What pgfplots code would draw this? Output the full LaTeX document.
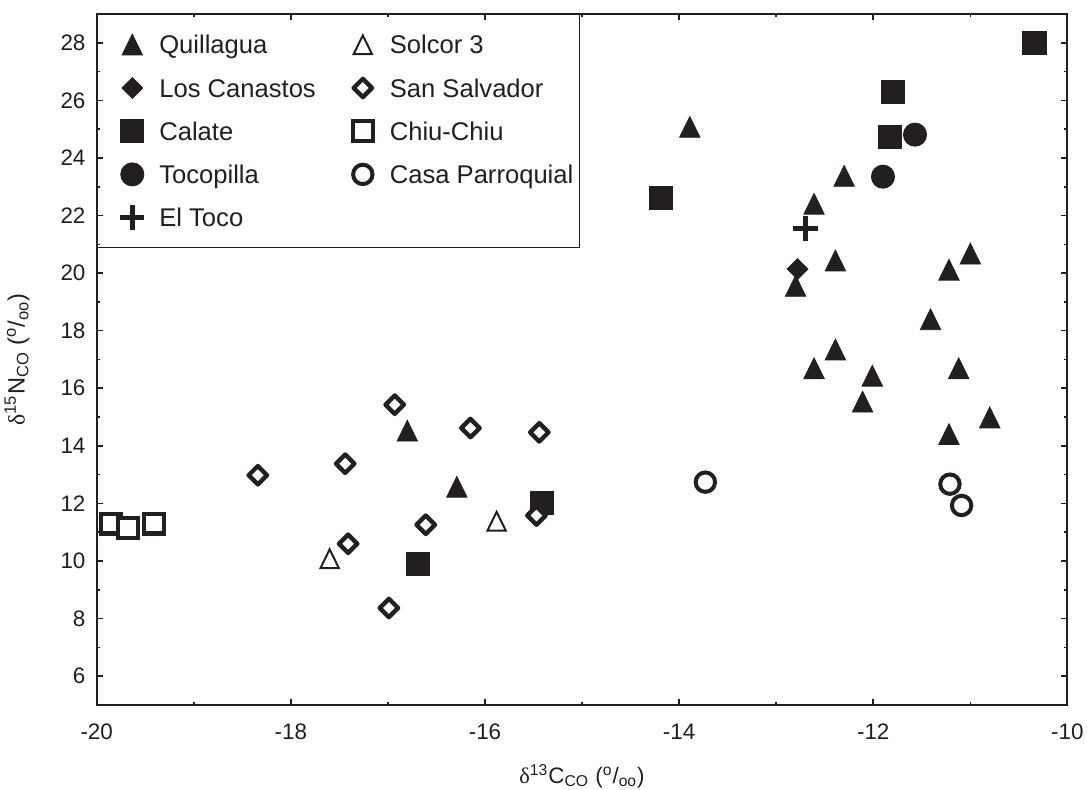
\documentclass[border=0pt]{standalone}
\usepackage{fontspec}
\setmainfont{Liberation Sans}
\newfontfamily\grk{Liberation Serif}
\usepackage{pgfplots}
\pgfplotsset{compat=1.18}
\definecolor{mk}{RGB}{35,31,32}

% filled triangle
\pgfdeclareplotmark{Qtri}{\pgfscope\pgfsetlinewidth{0.4pt}\pgfsetmiterjoin
 \pgfpathmoveto{\pgfqpoint{0pt}{5.3pt}}\pgfpathlineto{\pgfqpoint{5.1pt}{-5.1pt}}\pgfpathlineto{\pgfqpoint{-5.1pt}{-5.1pt}}\pgfpathclose\pgfusepathqfillstroke\endpgfscope}
% open triangle
\pgfdeclareplotmark{Otri}{\pgfscope\pgfsetlinewidth{1pt}\pgfsetmiterjoin\pgfsetfillcolor{white}
 \pgfpathmoveto{\pgfqpoint{0pt}{4.7pt}}\pgfpathlineto{\pgfqpoint{4.6pt}{-4.7pt}}\pgfpathlineto{\pgfqpoint{-4.6pt}{-4.7pt}}\pgfpathclose\pgfusepathqfillstroke\endpgfscope}
% filled square
\pgfdeclareplotmark{Fsq}{\pgfscope\pgfsetlinewidth{0.4pt}
 \pgfpathrectangle{\pgfqpoint{-5.8pt}{-5.8pt}}{\pgfqpoint{11.6pt}{11.6pt}}\pgfusepathqfillstroke\endpgfscope}
% open square
\pgfdeclareplotmark{Osq}{\pgfscope\pgfsetlinewidth{2.1pt}\pgfsetmiterjoin\pgfsetfillcolor{white}
 \pgfpathrectangle{\pgfqpoint{-4.95pt}{-4.95pt}}{\pgfqpoint{9.9pt}{9.9pt}}\pgfusepathqfillstroke\endpgfscope}
% filled circle
\pgfdeclareplotmark{Fci}{\pgfscope\pgfsetlinewidth{0.4pt}
 \pgfpathcircle{\pgfpointorigin}{5.8pt}\pgfusepathqfillstroke\endpgfscope}
% open circle
\pgfdeclareplotmark{Oci}{\pgfscope\pgfsetlinewidth{2pt}\pgfsetfillcolor{white}
 \pgfpathcircle{\pgfpointorigin}{4.85pt}\pgfusepathqfillstroke\endpgfscope}
% filled diamond
\pgfdeclareplotmark{Fdi}{\pgfscope\pgfsetlinewidth{0.4pt}\pgfsetmiterjoin
 \pgfpathmoveto{\pgfqpoint{0pt}{5.2pt}}\pgfpathlineto{\pgfqpoint{5.2pt}{0pt}}\pgfpathlineto{\pgfqpoint{0pt}{-5.2pt}}\pgfpathlineto{\pgfqpoint{-5.2pt}{0pt}}\pgfpathclose\pgfusepathqfillstroke\endpgfscope}
% open diamond
\pgfdeclareplotmark{Odi}{\pgfscope\pgfsetlinewidth{2.2pt}\pgfsetroundjoin\pgfsetfillcolor{white}
 \pgfpathmoveto{\pgfqpoint{0pt}{4.6pt}}\pgfpathlineto{\pgfqpoint{4.6pt}{0pt}}\pgfpathlineto{\pgfqpoint{0pt}{-4.6pt}}\pgfpathlineto{\pgfqpoint{-4.6pt}{0pt}}\pgfpathclose\pgfusepathqfillstroke\endpgfscope}
% plus
\pgfdeclareplotmark{Pls}{\pgfscope\pgfsetlinewidth{2.3pt}\pgfsetbuttcap
 \pgfpathmoveto{\pgfqpoint{-6.1pt}{0pt}}\pgfpathlineto{\pgfqpoint{6.1pt}{0pt}}\pgfpathmoveto{\pgfqpoint{0pt}{-6.1pt}}\pgfpathlineto{\pgfqpoint{0pt}{6.1pt}}\pgfusepathqstroke\endpgfscope}

\begin{document}
\begin{tikzpicture}
\path[use as bounding box] (-48.35pt,-42.5pt) rectangle (495.15pt,352.5pt);
\begin{axis}[
 at={(0,0)}, anchor=south west,
 scale only axis, width=485.35pt, height=345.5pt,
 xmin=-20, xmax=-10, ymin=5, ymax=29,
 xtick={-20,-18,-16,-14,-12,-10}, ytick={6,8,10,12,14,16,18,20,22,24,26,28},
 minor x tick num=1, minor y tick num=1,
 tick align=inside,
 major tick length=3pt, minor tick length=1.7pt,
 tick style={mk, line width=0.8pt},
 axis line style={mk, line width=1pt},
 tick label style={font=\fontsize{11.2}{13}\selectfont, text=mk},
 /pgf/number format/assume math mode=true,
 xticklabel style={yshift=-6pt},
 yticklabel style={xshift=-2.1pt},
 xlabel={{\grk δ}\textsuperscript{13}C\textsubscript{CO} (\textsuperscript{o}/\textsubscript{oo})},
 ylabel={{\grk δ}\textsuperscript{15}N\textsubscript{CO} (\textsuperscript{o}/\textsubscript{oo})},
 xlabel style={at={(axis description cs:0.5,-0.1129)}, anchor=base, font=\fontsize{11.2}{13}\selectfont, text=mk},
 ylabel style={at={(axis description cs:-0.0742,0.5)}, anchor=base, font=\fontsize{11.8}{13}\selectfont, text=mk},
 legend columns=2,
 legend cell align=left,
 legend image code/.code={\path[draw=none,fill=none] (0pt,-10.8pt) rectangle (28pt,10.8pt); \draw[#1] plot coordinates {(16.5pt,0pt)};},
 legend style={at={(0,1)}, anchor=north west, draw=mk, line width=0.6pt, fill=none,
   inner xsep=1pt, inner ysep=4.3pt, row sep=0pt, column sep=0pt,
   font=\fontsize{12.8}{14}\selectfont, text=mk,
   nodes={draw=none, fill=none, inner xsep=2pt, inner ysep=0pt, text height=9.2pt, text depth=0pt},
   /tikz/every even column/.append style={column sep=5pt}},
]
% Calate
\addplot[only marks, mark=Fsq, color=mk, forget plot] coordinates {
(-10.34,28.00) (-11.80,26.29) (-11.83,24.74) (-14.19,22.60) (-16.69,9.90) (-15.41,12.02)};
% Quillagua
\addplot[only marks, mark=Qtri, color=mk, forget plot] coordinates {
(-13.89,25.07) (-12.30,23.37) (-12.61,22.40) (-12.39,20.43) (-12.80,19.55)
(-11.22,20.11) (-11.00,20.67) (-11.41,18.39) (-12.39,17.34) (-12.61,16.69)
(-12.01,16.43) (-12.11,15.53) (-11.12,16.69) (-10.80,14.98) (-11.22,14.40)
(-16.80,14.52) (-16.29,12.57)};
% Los Canastos
\addplot[only marks, mark=Fdi, color=mk, forget plot] coordinates {(-12.78,20.14)};
% Tocopilla
\addplot[only marks, mark=Fci, color=mk, forget plot] coordinates {(-11.57,24.81) (-11.90,23.35)};
% El Toco
\addplot[only marks, mark=Pls, color=mk, forget plot] coordinates {(-12.70,21.55)};
% Solcor 3
\addplot[only marks, mark=Otri, color=mk, forget plot] coordinates {(-17.60,10.08) (-15.88,11.38)};
% San Salvador
\addplot[only marks, mark=Odi, color=mk, forget plot] coordinates {
(-18.34,12.98) (-17.44,13.38) (-16.93,15.43) (-16.15,14.62) (-15.44,14.47)
(-16.61,11.26) (-17.41,10.60) (-16.99,8.37) (-15.47,11.58)};
% Chiu-Chiu
\addplot[only marks, mark=Osq, color=mk, forget plot] coordinates {(-19.85,11.30) (-19.41,11.30) (-19.68,11.14)};
% Casa Parroquial
\addplot[only marks, mark=Oci, color=mk, forget plot] coordinates {(-13.73,12.74) (-11.21,12.67) (-11.09,11.93)};

\addlegendimage{only marks, mark=Qtri, color=mk}\addlegendentry{Quillagua}
\addlegendimage{only marks, mark=Otri, color=mk}\addlegendentry{Solcor 3}
\addlegendimage{only marks, mark=Fdi, color=mk}\addlegendentry{Los Canastos}
\addlegendimage{only marks, mark=Odi, color=mk}\addlegendentry{San Salvador}
\addlegendimage{only marks, mark=Fsq, color=mk}\addlegendentry{Calate}
\addlegendimage{only marks, mark=Osq, color=mk}\addlegendentry{Chiu-Chiu}
\addlegendimage{only marks, mark=Fci, color=mk}\addlegendentry{Tocopilla}
\addlegendimage{only marks, mark=Oci, color=mk}\addlegendentry{Casa Parroquial}
\addlegendimage{only marks, mark=Pls, color=mk}\addlegendentry{El Toco}
\end{axis}
\end{tikzpicture}
\end{document}
